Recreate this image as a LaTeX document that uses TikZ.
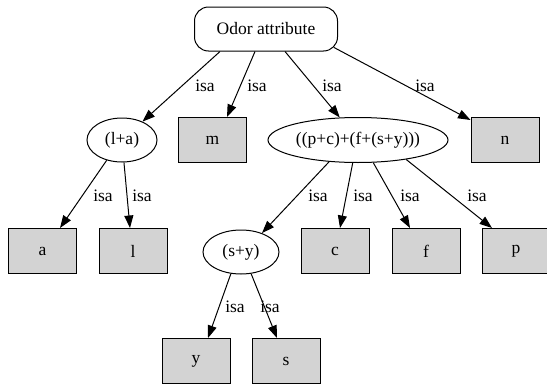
\documentclass[tikz,border=0pt]{standalone}
\usepackage{fontspec}
\setmainfont{Liberation Serif}
\usetikzlibrary{arrows.meta,shapes.geometric}
\definecolor{boxgray}{HTML}{D3D3D3}
\begin{document}
\begin{tikzpicture}[x=1pt,y=-1pt,
  every node/.style={font=\fontsize{17.5}{21}\selectfont},
  leaf/.style={draw, fill=boxgray, line width=1pt, minimum width=68pt, minimum height=45pt, inner sep=0pt},
  ell/.style={draw, ellipse, line width=1pt, inner sep=0pt},
  root/.style={draw, rounded corners=14pt, line width=1pt, minimum width=143pt, minimum height=44pt, inner sep=0pt},
  isa/.style={inner sep=0pt, anchor=base},
  edge/.style={line width=1pt, -{Triangle[length=12.5pt,width=9pt]}}
]
\useasboundingbox (0,0) rectangle (547,386);
\node[root] (odor) at (266,29) {Odor attribute};
\node[ell, minimum width=70pt, minimum height=44pt] (la) at (122,140) {(l+a)};
\node[leaf] (m) at (212.5,140) {m};
\node[ell, minimum width=180pt, minimum height=45pt] (big) at (358,140) {((p+c)+(f+(s+y)))};
\node[leaf] (n) at (505,140) {n};
\node[leaf] (a) at (42.5,251) {a};
\node[leaf] (l) at (133,251) {l};
\node[ell, minimum width=76pt, minimum height=44pt] (sy) at (241,252) {(s+y)};
\node[leaf] (c) at (335,251) {c};
\node[leaf] (f) at (426,251) {f};
\node[leaf] (p) at (516,251) {p};
\node[leaf] (y) at (196,361) {y};
\node[leaf] (s) at (286,361) {s};

\draw[edge] ([xshift=-46pt]odor.south) -- (la.42);
\draw[edge] ([xshift=-11pt]odor.south) -- ([xshift=14.5pt]m.north);
\draw[edge] ([xshift=19pt]odor.south) -- (big.129);
\draw[edge] ([shift={(-4pt,4pt)}]odor.south east) -- ([yshift=-3pt]n.north west);

\draw[edge] (la.-127) -- ([xshift=17.5pt]a.north);
\draw[edge] (la.-85) -- ([xshift=-3pt]l.north);
\draw[edge] (big.-143) -- (sy.42);
\draw[edge] (big.-103) -- ([xshift=5pt]c.north);
\draw[edge] (big.-56) -- ([xshift=-16pt]f.north);
\draw[edge] (big.-22) -- ([xshift=-24pt]p.north);
\draw[edge] (sy.-115) -- ([xshift=12pt]y.north);
\draw[edge] (sy.-65) -- ([xshift=-9pt]s.north);

\node[isa] (i1) at (205,91) {isa};
\node[isa] (i2) at (257,91) {isa};
\node[isa] (i3) at (332,91) {isa};
\node[isa] (i4) at (425,91) {isa};
\node[isa] (i5) at (103,201) {isa};
\node[isa] (i6) at (142,201) {isa};
\node[isa] (i7) at (318,201) {isa};
\node[isa] (i8) at (363,201) {isa};
\node[isa] (i9) at (410,201) {isa};
\node[isa] (i10) at (477,201) {isa};
\node[isa] (i11) at (235,312) {isa};
\node[isa] (i12) at (270,312) {isa};
\end{tikzpicture}
\end{document}
